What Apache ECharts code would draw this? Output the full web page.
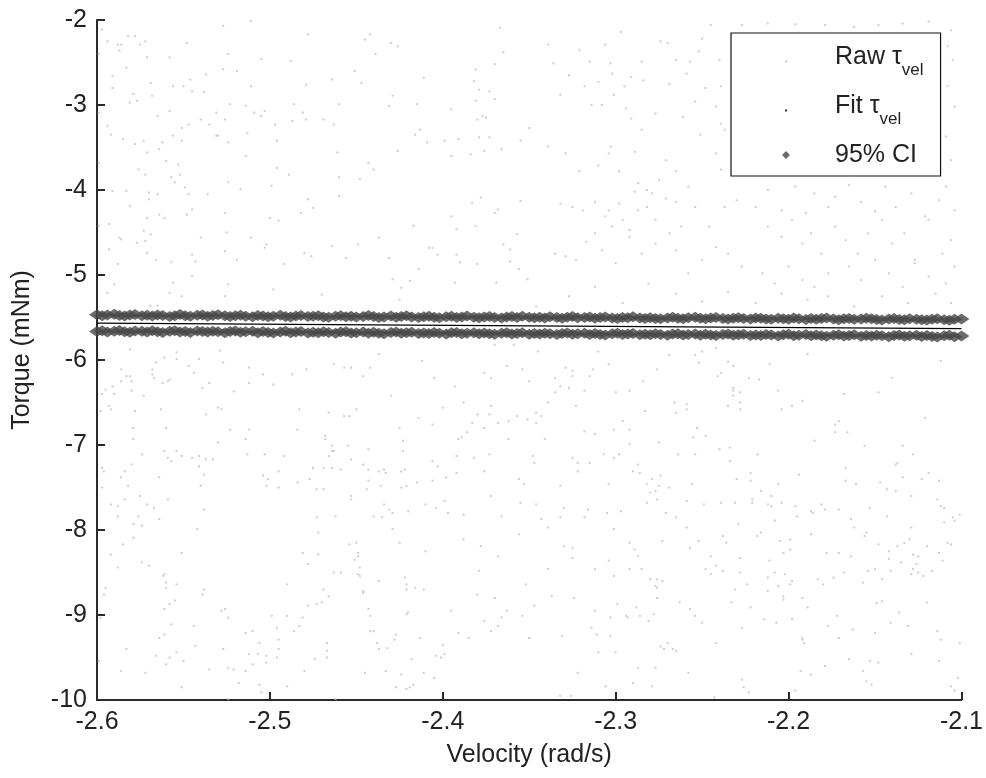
<!DOCTYPE html>
<html>
<head>
<meta charset="utf-8">
<script src="https://cdn.jsdelivr.net/npm/echarts@6/dist/echarts.min.js"></script>
<style>html,body{margin:0;padding:0;background:#fff;}#chart{width:986px;height:778px;}</style>
</head>
<body>
<div id="chart"></div>
<script>
// ---- data ----
const xTicks = [-2.6, -2.5, -2.4, -2.3, -2.2, -2.1];
const yTicks = [-10, -9, -8, -7, -6, -5, -4, -3, -2];

// Raw torque samples [velocity, torque]
const rawPoints = [
[-2.597,-2.11],[-2.527,-2.07],[-2.511,-2.01],[-2.594,-2.25],[-2.588,-2.29],[-2.586,-2.29],[-2.582,-2.19],[-2.578,-2.19],[-2.575,-2.29],[-2.572,-2.25],
[-2.587,-2.36],[-2.599,-2.40],[-2.571,-2.44],[-2.558,-2.44],[-2.548,-2.27],[-2.524,-2.40],[-2.505,-2.46],[-2.488,-2.48],[-2.478,-2.17],[-2.445,-2.23],
[-2.442,-2.17],[-2.439,-2.40],[-2.430,-2.27],[-2.426,-2.31],[-2.367,-2.09],[-2.365,-2.38],[-2.370,-2.52],[-2.381,-2.58],[-2.382,-2.72],[-2.379,-2.82],
[-2.373,-2.84],[-2.370,-2.93],[-2.381,-2.95],[-2.380,-3.17],[-2.377,-3.13],[-2.375,-3.15],[-2.583,-2.56],[-2.591,-2.66],[-2.591,-2.80],[-2.569,-2.74],
[-2.568,-2.89],[-2.579,-2.87],[-2.581,-2.97],[-2.577,-2.95],[-2.556,-2.78],[-2.550,-2.78],[-2.546,-2.70],[-2.545,-2.84],[-2.538,-2.85],[-2.537,-2.64],
[-2.527,-2.58],[-2.519,-2.60],[-2.511,-2.78],[-2.479,-2.76],[-2.464,-2.70],[-2.451,-2.60],[-2.447,-2.74],[-2.429,-2.89],[-2.431,-3.01],[-2.415,-2.99],
[-2.411,-2.68],[-2.395,-3.05],[-2.460,-2.99],[-2.486,-2.99],[-2.523,-2.99],[-2.514,-3.01],[-2.509,-3.09],[-2.503,-3.07],[-2.505,-3.13],[-2.481,-3.09],
[-2.479,-3.17],[-2.487,-3.19],[-2.497,-3.23],[-2.469,-3.17],[-2.463,-3.23],[-2.599,-3.09],[-2.594,-3.25],[-2.592,-3.35],[-2.565,-3.13],[-2.558,-3.07],
[-2.551,-3.27],[-2.547,-3.23],[-2.540,-3.17],[-2.535,-3.23],[-2.531,-3.09],[-2.526,-3.17],[-2.531,-3.36],[-2.530,-3.36],[-2.524,-3.44],[-2.513,-3.33],
[-2.496,-3.42],[-2.585,-3.40],[-2.578,-3.46],[-2.573,-3.42],[-2.571,-3.56],[-2.564,-3.52],[-2.562,-3.44],[-2.556,-3.36],[-2.551,-3.42],[-2.416,-3.35],
[-2.413,-3.29],[-2.409,-3.44],[-2.399,-3.42],[-2.391,-3.40],[-2.395,-3.60],[-2.384,-3.58],[-2.376,-3.54],[-2.366,-3.52],[-2.355,-3.42],[-2.350,-3.27],
[-2.379,-3.38],[-2.373,-3.38],[-2.426,-3.54],[-2.461,-3.56],[-2.514,-3.60],[-2.496,-3.74],[-2.489,-3.82],[-2.499,-3.95],[-2.517,-3.99],[-2.524,-3.91],
[-2.460,-3.85],[-2.460,-4.07],[-2.448,-3.87],[-2.443,-3.68],[-2.440,-3.76],[-2.599,-3.68],[-2.576,-3.76],[-2.572,-3.82],[-2.560,-3.66],[-2.553,-3.70],
[-2.557,-3.85],[-2.555,-3.91],[-2.552,-3.82],[-2.549,-3.97],[-2.547,-4.05],[-2.536,-4.05],[-2.591,-4.01],[-2.583,-4.01],[-2.570,-4.03],[-2.570,-4.11],
[-2.565,-4.05],[-2.581,-4.19],[-2.571,-4.33],[-2.564,-4.29],[-2.561,-4.33],[-2.548,-4.29],[-2.545,-4.23],[-2.526,-4.27],[-2.599,-4.42],[-2.593,-4.40],
[-2.573,-4.48],[-2.569,-4.52],[-2.587,-4.56],[-2.586,-4.58],[-2.577,-4.62],[-2.572,-4.60],[-2.571,-4.74],[-2.566,-4.82],[-2.557,-4.85],[-2.545,-4.76],
[-2.543,-4.84],[-2.540,-4.56],[-2.525,-4.50],[-2.526,-4.72],[-2.519,-4.82],[-2.511,-4.56],[-2.503,-4.68],[-2.502,-4.64],[-2.500,-4.33],[-2.495,-4.36],
[-2.482,-4.27],[-2.478,-4.11],[-2.475,-4.21],[-2.480,-4.74],[-2.476,-4.78],[-2.492,-4.87],[-2.464,-4.66],[-2.456,-4.80],[-2.449,-4.64],[-2.437,-4.56],
[-2.417,-4.42],[-2.395,-4.31],[-2.392,-4.46],[-2.383,-4.15],[-2.378,-4.09],[-2.381,-4.42],[-2.370,-4.27],[-2.368,-4.23],[-2.355,-4.13],[-2.357,-4.52],
[-2.365,-4.64],[-2.361,-4.70],[-2.361,-4.84],[-2.356,-4.93],[-2.351,-5.05],[-2.369,-5.09],[-2.380,-4.87],[-2.390,-4.85],[-2.392,-4.76],[-2.408,-4.68],
[-2.406,-4.68],[-2.403,-4.76],[-2.414,-4.93],[-2.419,-5.07],[-2.429,-5.05],[-2.424,-5.15],[-2.425,-5.29],[-2.431,-4.80],[-2.393,-5.09],[-2.470,-5.23],
[-2.498,-5.17],[-2.524,-5.11],[-2.526,-5.25],[-2.545,-5.01],[-2.551,-5.25],[-2.556,-5.09],[-2.558,-5.21],[-2.594,-5.21],[-2.590,-5.11],[-2.588,-4.87],
[-2.593,-4.70],[-2.569,-5.36],[-2.565,-5.36],
[-2.339,-2.29],[-2.336,-2.51],[-2.327,-2.65],[-2.321,-2.35],[-2.315,-2.49],[-2.310,-2.73],[-2.306,-2.29],[-2.303,-2.51],[-2.302,-2.63],[-2.297,-2.14],
[-2.295,-2.78],[-2.291,-2.67],[-2.285,-2.49],[-2.284,-2.71],[-2.274,-2.25],[-2.270,-2.27],[-2.265,-2.47],[-2.259,-2.63],[-2.257,-2.49],[-2.252,-2.37],
[-2.250,-2.22],[-2.245,-2.06],[-2.248,-2.80],[-2.240,-2.47],[-2.332,-2.88],[-2.318,-2.78],[-2.314,-3.00],[-2.308,-3.00],[-2.301,-2.88],[-2.294,-3.04],
[-2.291,-3.16],[-2.285,-3.29],[-2.277,-3.10],[-2.269,-2.75],[-2.261,-3.14],[-2.254,-2.96],[-2.251,-3.35],[-2.239,-3.22],[-2.339,-3.49],[-2.329,-3.57],
[-2.321,-3.78],[-2.310,-3.71],[-2.304,-3.57],[-2.303,-3.49],[-2.298,-3.78],[-2.289,-3.55],[-2.287,-3.92],[-2.282,-4.00],[-2.279,-4.04],[-2.275,-3.88],
[-2.271,-3.65],[-2.265,-3.78],[-2.258,-3.96],[-2.289,-4.02],[-2.332,-4.16],[-2.325,-4.20],[-2.319,-4.24],[-2.312,-4.14],[-2.306,-4.31],[-2.304,-4.24],
[-2.302,-4.43],[-2.298,-4.16],[-2.296,-4.35],[-2.292,-4.47],[-2.287,-4.24],[-2.282,-4.20],[-2.277,-4.35],[-2.271,-4.10],[-2.265,-4.14],[-2.262,-4.43],
[-2.254,-4.20],[-2.246,-4.43],[-2.237,-4.20],[-2.230,-4.12],[-2.335,-4.75],[-2.329,-4.78],[-2.323,-4.82],[-2.317,-4.61],[-2.312,-4.51],[-2.308,-4.71],
[-2.300,-4.86],[-2.292,-4.55],[-2.285,-4.75],[-2.277,-4.63],[-2.269,-4.51],[-2.265,-4.71],[-2.258,-4.98],[-2.250,-4.82],[-2.242,-4.67],[-2.235,-4.75],
[-2.227,-4.90],[-2.219,-4.20],[-2.212,-4.00],[-2.204,-4.24],[-2.196,-3.96],[-2.190,-4.27],[-2.185,-4.04],[-2.177,-4.20],[-2.173,-4.08],[-2.165,-3.94],
[-2.158,-4.14],[-2.150,-4.25],[-2.144,-3.96],[-2.138,-4.20],[-2.129,-4.04],[-2.121,-4.31],[-2.113,-4.12],[-2.109,-3.96],[-2.104,-4.24],[-2.212,-4.43],
[-2.204,-4.55],[-2.198,-4.35],[-2.192,-4.63],[-2.187,-4.51],[-2.181,-4.75],[-2.173,-4.43],[-2.167,-4.59],[-2.160,-4.75],[-2.154,-4.51],[-2.146,-4.35],
[-2.140,-4.63],[-2.133,-4.51],[-2.127,-4.82],[-2.119,-4.35],[-2.111,-4.75],[-2.106,-4.59],[-2.215,-4.98],[-2.208,-5.10],[-2.200,-4.90],[-2.192,-5.06],
[-2.185,-5.14],[-2.177,-4.98],[-2.165,-4.90],[-2.158,-5.06],[-2.150,-4.82],[-2.142,-4.98],[-2.134,-5.14],[-2.127,-4.86],[-2.119,-5.02],[-2.109,-5.10],
[-2.104,-4.90],[-2.346,-5.37],[-2.327,-5.25],[-2.312,-5.14],[-2.296,-5.33],[-2.281,-5.10],[-2.265,-5.22],[-2.250,-5.31],[-2.235,-5.20],[-2.219,-5.33],
[-2.204,-5.22],[-2.189,-5.29],[-2.177,-5.25],[-2.162,-5.37],[-2.146,-5.25],[-2.131,-5.33],[-2.115,-5.22],[-2.106,-5.33],[-2.227,-2.06],[-2.212,-2.04],
[-2.196,-2.05],[-2.179,-2.06],[-2.162,-2.08],[-2.148,-2.06],[-2.134,-2.04],[-2.119,-2.02],[-2.106,-2.12],[-2.108,-2.31],[-2.105,-2.47],[-2.108,-2.78],
[-2.104,-3.02],[-2.109,-3.37],[-2.106,-3.65],[-2.239,-2.78],[-2.242,-3.02],[-2.237,-3.29],[-2.242,-3.57],[-2.239,-3.76],
[-2.581,-5.875],[-2.566,-6.03],[-2.561,-5.97],[-2.554,-5.91],[-2.554,-5.99],[-2.529,-5.89],[-2.527,-6.03],[-2.541,-5.99],[-2.547,-6.07],[-2.544,-6.15],
[-2.586,-6.11],[-2.583,-6.19],[-2.581,-6.19],[-2.580,-6.25],[-2.586,-6.25],[-2.591,-6.31],[-2.595,-6.35],[-2.597,-6.40],[-2.590,-6.40],[-2.580,-6.36],
[-2.573,-6.42],[-2.568,-6.11],[-2.568,-6.17],[-2.567,-6.21],[-2.562,-6.27],[-2.559,-6.25],[-2.558,-6.23],[-2.535,-6.27],[-2.539,-6.33],[-2.521,-6.37],
[-2.512,-6.09],[-2.512,-6.27],[-2.504,-6.17],[-2.498,-6.29],[-2.487,-6.17],[-2.479,-6.11],[-2.463,-6.05],[-2.457,-6.09],[-2.453,-6.09],[-2.446,-6.19],
[-2.442,-6.09],[-2.437,-5.93],[-2.430,-6.42],[-2.412,-6.01],[-2.405,-6.21],[-2.393,-6.31],[-2.388,-6.50],[-2.376,-6.15],[-2.372,-6.21],[-2.363,-6.07],
[-2.354,-6.11],[-2.359,-5.82],[-2.370,-5.82],[-2.593,-6.54],[-2.592,-6.58],[-2.598,-6.60],[-2.578,-6.60],[-2.563,-6.58],[-2.537,-6.64],[-2.530,-6.56],
[-2.528,-6.58],[-2.579,-6.80],[-2.579,-6.93],[-2.560,-6.80],[-2.574,-7.11],[-2.561,-7.07],[-2.559,-7.15],[-2.557,-7.19],[-2.554,-7.07],[-2.551,-7.13],
[-2.545,-7.15],[-2.541,-7.13],[-2.537,-7.17],[-2.533,-7.17],[-2.541,-7.25],[-2.538,-7.35],[-2.540,-7.48],[-2.538,-7.76],[-2.530,-6.97],[-2.523,-6.82],
[-2.514,-6.93],[-2.512,-6.82],[-2.513,-7.11],[-2.503,-7.11],[-2.504,-7.36],[-2.501,-7.40],[-2.502,-7.48],[-2.495,-7.31],[-2.495,-7.50],[-2.492,-7.13],
[-2.484,-6.82],[-2.483,-6.58],[-2.484,-7.44],[-2.477,-7.40],[-2.475,-7.27],[-2.473,-7.52],[-2.469,-7.52],[-2.469,-7.27],[-2.468,-6.89],[-2.468,-6.93],
[-2.466,-6.62],[-2.466,-7.13],[-2.464,-7.01],[-2.464,-7.07],[-2.463,-7.07],[-2.464,-7.27],[-2.459,-7.29],[-2.457,-6.66],[-2.454,-6.66],[-2.455,-7.01],
[-2.453,-7.17],[-2.450,-6.58],[-2.453,-7.60],[-2.453,-7.64],[-2.446,-7.23],[-2.443,-7.05],[-2.443,-7.29],[-2.443,-7.42],[-2.444,-7.52],[-2.437,-7.31],
[-2.436,-7.48],[-2.434,-7.29],[-2.433,-7.33],[-2.424,-7.31],[-2.422,-7.29],[-2.423,-6.95],[-2.423,-7.07],[-2.425,-6.80],[-2.415,-7.44],[-2.414,-6.68],
[-2.406,-6.76],[-2.406,-7.19],[-2.403,-7.25],[-2.398,-7.38],[-2.406,-7.42],[-2.424,-7.50],[-2.421,-7.48],[-2.400,-6.56],[-2.391,-6.93],[-2.389,-6.91],
[-2.392,-7.13],[-2.392,-7.33],[-2.382,-7.15],[-2.386,-6.85],[-2.383,-6.74],[-2.380,-6.64],[-2.373,-6.64],[-2.376,-6.80],[-2.372,-6.54],[-2.368,-6.74],
[-2.362,-6.72],[-2.357,-6.66],[-2.351,-6.70],[-2.362,-6.93],[-2.373,-7.11],[-2.376,-7.31],[-2.356,-7.40],[-2.353,-7.46],[-2.372,-7.60],[-2.366,-7.84],
[-2.355,-7.68],[-2.356,-8.05],[-2.388,-7.82],[-2.397,-7.80],[-2.399,-7.66],[-2.404,-7.74],[-2.410,-7.70],[-2.420,-7.78],[-2.429,-7.80],[-2.429,-7.99],
[-2.431,-7.76],[-2.435,-7.85],[-2.440,-7.84],[-2.434,-7.70],[-2.425,-8.15],[-2.410,-8.25],[-2.388,-8.11],[-2.378,-8.19],[-2.368,-8.31],[-2.379,-8.48],
[-2.380,-8.76],[-2.370,-8.80],[-2.376,-9.07],[-2.372,-9.19],[-2.368,-9.13],[-2.366,-9.03],[-2.363,-8.95],[-2.354,-9.01],[-2.352,-8.64],[-2.350,-9.27],
[-2.385,-9.27],[-2.391,-9.21],[-2.395,-8.95],[-2.400,-9.35],[-2.399,-9.46],[-2.404,-9.48],[-2.401,-9.50],[-2.405,-9.74],[-2.411,-9.68],[-2.418,-9.52],
[-2.413,-9.27],[-2.420,-8.97],[-2.421,-8.99],[-2.411,-8.70],[-2.416,-8.68],[-2.421,-8.70],[-2.421,-8.64],[-2.422,-8.56],[-2.427,-9.23],[-2.428,-9.29],
[-2.432,-9.39],[-2.437,-9.40],[-2.438,-9.33],[-2.433,-9.66],[-2.424,-9.70],[-2.427,-9.85],[-2.421,-9.87],[-2.419,-9.85],[-2.417,-9.82],[-2.440,-9.19],
[-2.442,-9.19],[-2.442,-9.01],[-2.443,-8.93],[-2.446,-8.74],[-2.446,-8.72],[-2.437,-8.60],[-2.445,-9.68],[-2.448,-8.44],[-2.449,-8.52],[-2.448,-8.54],
[-2.449,-8.27],[-2.449,-8.31],[-2.451,-8.35],[-2.450,-8.15],[-2.454,-8.17],[-2.459,-8.50],[-2.463,-8.50],[-2.466,-8.78],[-2.469,-8.70],[-2.470,-8.85],
[-2.473,-8.87],[-2.478,-8.89],[-2.478,-8.40],[-2.481,-8.27],[-2.472,-8.29],[-2.472,-8.03],[-2.473,-7.85],[-2.462,-7.84],[-2.467,-9.33],[-2.467,-9.42],
[-2.467,-9.50],[-2.474,-9.52],[-2.480,-9.66],[-2.481,-9.03],[-2.483,-9.13],[-2.486,-9.19],[-2.490,-9.01],[-2.490,-8.64],[-2.496,-9.15],[-2.495,-9.29],
[-2.495,-9.40],[-2.496,-9.50],[-2.499,-9.01],[-2.502,-9.56],[-2.502,-9.48],[-2.506,-9.33],[-2.507,-9.46],[-2.510,-9.19],[-2.510,-9.58],[-2.512,-9.46],
[-2.514,-9.21],[-2.514,-9.66],[-2.521,-9.64],[-2.524,-9.62],[-2.527,-9.40],[-2.524,-9.03],[-2.526,-8.93],[-2.528,-8.95],[-2.535,-9.64],[-2.543,-9.36],
[-2.544,-9.13],[-2.539,-8.76],[-2.538,-8.70],[-2.550,-9.54],[-2.554,-9.44],[-2.558,-9.50],[-2.560,-9.58],[-2.566,-9.48],[-2.561,-9.23],[-2.564,-9.27],
[-2.557,-9.11],[-2.561,-8.93],[-2.558,-8.87],[-2.555,-8.83],[-2.554,-8.64],[-2.560,-8.68],[-2.560,-8.62],[-2.562,-8.54],[-2.561,-8.52],[-2.551,-8.27],
[-2.570,-8.42],[-2.574,-8.38],[-2.588,-8.44],[-2.592,-8.29],[-2.585,-8.17],[-2.579,-8.09],[-2.579,-7.93],[-2.574,-7.95],[-2.564,-7.87],[-2.567,-7.74],
[-2.571,-7.70],[-2.576,-7.84],[-2.575,-7.60],[-2.584,-7.64],[-2.588,-7.84],[-2.588,-7.72],[-2.592,-7.70],[-2.597,-7.50],[-2.586,-7.38],[-2.584,-7.31],
[-2.582,-7.48],[-2.580,-7.23],[-2.597,-7.27],[-2.596,-7.31],[-2.559,-7.64],[-2.564,-7.38],[-2.542,-7.99],[-2.595,-8.68],[-2.596,-8.76],[-2.598,-9.03],
[-2.583,-9.40],[-2.586,-9.66],[-2.572,-9.68],[-2.551,-9.85],[-2.518,-9.80],[-2.506,-9.82],[-2.505,-9.91],[-2.490,-9.84],[-2.524,-9.99],[-2.462,-9.99],
[-2.599,-9.54],
[-2.345,-5.90],[-2.310,-5.90],[-2.269,-5.94],[-2.254,-5.94],[-2.250,-5.90],[-2.252,-6.03],[-2.242,-5.86],[-2.235,-6.02],[-2.232,-6.07],[-2.239,-6.15],
[-2.241,-6.19],[-2.223,-6.21],[-2.217,-6.23],[-2.211,-6.05],[-2.189,-5.93],[-2.112,-6.01],[-2.140,-6.21],[-2.304,-6.05],[-2.329,-6.09],[-2.325,-6.13],
[-2.313,-6.11],[-2.315,-6.19],[-2.325,-6.19],[-2.335,-6.21],[-2.332,-6.31],[-2.327,-6.33],[-2.335,-6.38],[-2.350,-6.25],[-2.339,-6.50],[-2.346,-6.62],
[-2.343,-6.66],[-2.346,-6.74],[-2.323,-6.54],[-2.318,-6.36],[-2.300,-6.38],[-2.292,-6.36],[-2.284,-6.25],[-2.276,-6.11],[-2.283,-6.60],[-2.266,-6.50],
[-2.265,-6.62],[-2.259,-6.52],[-2.259,-6.58],[-2.232,-6.33],[-2.232,-6.36],[-2.232,-6.42],[-2.228,-6.38],[-2.228,-6.50],[-2.228,-6.58],[-2.235,-6.54],
[-2.206,-6.36],[-2.204,-6.58],[-2.198,-6.54],[-2.192,-6.48],[-2.168,-6.40],[-2.148,-6.38],[-2.121,-6.68],[-2.173,-6.76],[-2.171,-6.72],[-2.173,-6.85],
[-2.166,-6.85],[-2.185,-6.95],[-2.156,-7.01],[-2.134,-7.01],[-2.128,-7.11],[-2.119,-7.33],[-2.123,-7.40],[-2.138,-7.23],[-2.137,-7.21],[-2.134,-7.38],
[-2.147,-7.44],[-2.143,-7.52],[-2.138,-7.54],[-2.129,-7.60],[-2.161,-7.46],[-2.167,-7.27],[-2.167,-7.42],[-2.113,-7.42],[-2.114,-7.64],[-2.112,-7.72],
[-2.110,-7.74],[-2.110,-7.91],[-2.105,-7.85],[-2.104,-7.89],[-2.101,-7.82],[-2.129,-7.97],[-2.130,-8.11],[-2.133,-8.15],[-2.137,-8.19],[-2.142,-8.25],
[-2.148,-8.17],[-2.155,-8.03],[-2.156,-8.07],[-2.164,-7.87],[-2.162,-7.97],[-2.153,-7.74],[-2.143,-7.84],[-2.120,-8.19],[-2.113,-8.27],[-2.111,-8.36],
[-2.108,-8.15],[-2.106,-8.17],[-2.128,-8.29],[-2.125,-8.31],[-2.126,-8.40],[-2.128,-8.46],[-2.125,-8.50],[-2.122,-8.54],[-2.117,-8.48],[-2.129,-8.52],
[-2.135,-8.38],[-2.141,-8.48],[-2.142,-8.34],[-2.146,-8.58],[-2.150,-8.46],[-2.154,-8.48],[-2.157,-8.62],[-2.164,-8.31],[-2.168,-8.50],[-2.174,-8.56],
[-2.180,-8.64],[-2.183,-8.58],[-2.187,-8.05],[-2.181,-7.70],[-2.179,-7.76],[-2.187,-7.78],[-2.195,-7.84],[-2.196,-7.72],[-2.178,-8.27],[-2.171,-8.27],
[-2.171,-7.76],[-2.146,-8.84],[-2.149,-8.86],[-2.136,-8.97],[-2.141,-9.09],[-2.131,-9.13],[-2.120,-8.85],[-2.114,-9.19],[-2.112,-9.29],[-2.101,-9.33],
[-2.113,-9.54],[-2.129,-9.46],[-2.148,-9.56],[-2.153,-9.54],[-2.157,-9.66],[-2.155,-9.78],[-2.152,-9.82],[-2.165,-9.52],[-2.179,-9.60],[-2.187,-9.70],
[-2.193,-9.66],[-2.191,-9.33],[-2.192,-9.29],[-2.172,-9.01],[-2.171,-9.27],[-2.177,-9.13],[-2.163,-9.17],[-2.150,-9.21],[-2.106,-9.84],[-2.102,-9.74],
[-2.104,-9.89],[-2.196,-9.89],[-2.223,-9.91],[-2.226,-9.85],[-2.227,-9.76],[-2.243,-9.97],[-2.258,-9.68],[-2.279,-9.84],[-2.290,-9.80],[-2.287,-9.62],
[-2.277,-9.62],[-2.306,-9.84],[-2.322,-9.68],[-2.326,-9.95],[-2.332,-9.95],[-2.310,-9.44],[-2.300,-9.44],[-2.311,-9.23],[-2.314,-9.15],[-2.303,-9.25],
[-2.331,-9.25],[-2.350,-9.27],[-2.347,-8.89],[-2.337,-8.78],[-2.324,-8.80],[-2.312,-8.95],[-2.303,-9.03],[-2.299,-8.87],[-2.294,-9.01],[-2.293,-9.03],
[-2.288,-8.91],[-2.286,-9.01],[-2.281,-9.07],[-2.278,-8.99],[-2.276,-8.80],[-2.277,-8.66],[-2.276,-8.68],[-2.273,-8.60],[-2.280,-8.58],[-2.276,-8.58],
[-2.274,-9.37],[-2.272,-9.40],[-2.270,-9.33],[-2.267,-9.40],[-2.265,-9.42],[-2.263,-8.85],[-2.257,-8.93],[-2.254,-9.01],[-2.250,-9.09],[-2.242,-9.33],
[-2.227,-9.15],[-2.233,-8.85],[-2.231,-8.70],[-2.222,-8.91],[-2.214,-9.05],[-2.207,-9.09],[-2.198,-9.05],[-2.189,-8.91],[-2.192,-8.80],[-2.203,-8.78],
[-2.203,-8.82],[-2.206,-8.66],[-2.212,-8.72],[-2.212,-8.56],[-2.208,-8.50],[-2.202,-8.52],[-2.199,-8.64],[-2.198,-8.60],[-2.192,-9.27],[-2.224,-8.64],
[-2.228,-8.50],[-2.228,-8.33],[-2.238,-8.48],[-2.242,-8.42],[-2.245,-8.31],[-2.248,-8.46],[-2.245,-8.52],[-2.238,-8.07],[-2.236,-8.15],[-2.252,-8.13],
[-2.257,-8.21],[-2.259,-7.97],[-2.265,-7.85],[-2.271,-7.80],[-2.273,-8.13],[-2.285,-8.46],[-2.287,-8.31],[-2.289,-8.23],[-2.292,-8.15],[-2.292,-8.46],
[-2.301,-8.54],[-2.304,-8.36],[-2.312,-8.46],[-2.301,-7.99],[-2.305,-7.80],[-2.297,-7.78],[-2.318,-7.85],[-2.316,-7.76],[-2.332,-7.85],[-2.330,-7.74],
[-2.343,-7.87],[-2.339,-7.97],[-2.346,-7.70],[-2.330,-8.19],[-2.325,-8.21],[-2.325,-8.33],[-2.339,-8.46],[-2.282,-7.68],[-2.276,-7.64],[-2.277,-7.54],
[-2.280,-7.56],[-2.282,-7.46],[-2.279,-7.40],[-2.274,-7.36],[-2.275,-7.48],[-2.269,-7.50],[-2.287,-7.23],[-2.286,-7.33],[-2.290,-7.31],[-2.304,-7.46],
[-2.322,-7.21],[-2.322,-7.31],[-2.315,-7.21],[-2.325,-7.15],[-2.332,-7.48],[-2.348,-7.13],[-2.347,-7.21],[-2.341,-6.93],[-2.307,-7.11],[-2.301,-7.15],
[-2.298,-7.11],[-2.292,-6.99],[-2.292,-6.82],[-2.296,-6.72],[-2.301,-6.82],[-2.312,-6.87],[-2.318,-6.84],[-2.275,-6.97],[-2.264,-7.11],[-2.254,-7.11],
[-2.255,-6.91],[-2.253,-6.80],[-2.248,-6.89],[-2.240,-7.05],[-2.234,-7.03],[-2.234,-7.19],[-2.230,-7.40],[-2.222,-7.33],[-2.222,-7.42],[-2.218,-7.11],
[-2.216,-7.54],[-2.221,-7.64],[-2.221,-7.68],[-2.212,-7.70],[-2.210,-7.60],[-2.210,-7.72],[-2.204,-7.68],[-2.206,-7.46],[-2.208,-7.89],[-2.229,-7.93],
[-2.239,-7.68],[-2.249,-7.70],[-2.256,-7.46],[-2.259,-7.66],[-2.231,-7.68],[-2.218,-8.07],[-2.216,-8.03],[-2.205,-8.13],[-2.199,-8.11],[-2.199,-8.23],
[-2.203,-8.27],[-2.211,-8.36],[-2.194,-7.35],[-2.186,-7.80]
];

// Confidence interval, evaluated along velocity
const ciVelocity = [
-2.600,-2.597,-2.594,-2.590,-2.587,-2.584,-2.581,-2.578,-2.574,-2.571,
-2.568,-2.565,-2.562,-2.558,-2.555,-2.552,-2.549,-2.546,-2.542,-2.539,
-2.536,-2.533,-2.530,-2.526,-2.523,-2.520,-2.517,-2.514,-2.510,-2.507,
-2.504,-2.501,-2.498,-2.494,-2.491,-2.488,-2.485,-2.482,-2.478,-2.475,
-2.472,-2.469,-2.466,-2.462,-2.459,-2.456,-2.453,-2.450,-2.446,-2.443,
-2.440,-2.437,-2.434,-2.430,-2.427,-2.424,-2.421,-2.418,-2.414,-2.411,
-2.408,-2.405,-2.402,-2.398,-2.395,-2.392,-2.389,-2.386,-2.382,-2.379,
-2.376,-2.373,-2.370,-2.366,-2.363,-2.360,-2.357,-2.354,-2.350,-2.347,
-2.344,-2.341,-2.338,-2.334,-2.331,-2.328,-2.325,-2.322,-2.318,-2.315,
-2.312,-2.309,-2.306,-2.302,-2.299,-2.296,-2.293,-2.290,-2.286,-2.283,
-2.280,-2.277,-2.274,-2.270,-2.267,-2.264,-2.261,-2.258,-2.254,-2.251,
-2.248,-2.245,-2.242,-2.238,-2.235,-2.232,-2.229,-2.226,-2.222,-2.219,
-2.216,-2.213,-2.210,-2.206,-2.203,-2.200,-2.197,-2.194,-2.190,-2.187,
-2.184,-2.181,-2.178,-2.174,-2.171,-2.168,-2.165,-2.162,-2.158,-2.155,
-2.152,-2.149,-2.146,-2.142,-2.139,-2.136,-2.133,-2.130,-2.126,-2.123,
-2.120,-2.117,-2.114,-2.110,-2.107,-2.104,-2.100
];
const ciUpper = [
-5.468,-5.478,-5.472,-5.462,-5.476,-5.481,-5.470,-5.465,-5.479,-5.474,
-5.483,-5.470,-5.476,-5.487,-5.478,-5.466,-5.480,-5.485,-5.474,-5.471,
-5.486,-5.477,-5.468,-5.480,-5.489,-5.479,-5.473,-5.484,-5.490,-5.476,
-5.481,-5.492,-5.485,-5.474,-5.488,-5.495,-5.482,-5.477,-5.489,-5.484,
-5.480,-5.493,-5.497,-5.486,-5.478,-5.491,-5.484,-5.495,-5.488,-5.476,
-5.487,-5.499,-5.494,-5.483,-5.496,-5.489,-5.480,-5.493,-5.500,-5.491,
-5.484,-5.497,-5.503,-5.490,-5.486,-5.499,-5.494,-5.481,-5.496,-5.502,
-5.493,-5.487,-5.501,-5.506,-5.495,-5.489,-5.500,-5.485,-5.497,-5.504,
-5.498,-5.507,-5.492,-5.501,-5.510,-5.496,-5.489,-5.504,-5.500,-5.493,
-5.509,-5.501,-5.495,-5.507,-5.513,-5.499,-5.504,-5.492,-5.506,-5.511,
-5.502,-5.511,-5.516,-5.505,-5.498,-5.509,-5.514,-5.503,-5.496,-5.510,
-5.515,-5.507,-5.501,-5.513,-5.519,-5.510,-5.504,-5.512,-5.517,-5.506,
-5.510,-5.518,-5.522,-5.508,-5.514,-5.520,-5.505,-5.516,-5.523,-5.512,
-5.521,-5.513,-5.507,-5.519,-5.525,-5.516,-5.511,-5.522,-5.517,-5.509,
-5.516,-5.524,-5.528,-5.519,-5.512,-5.523,-5.527,-5.515,-5.520,-5.526,
-5.529,-5.521,-5.515,-5.526,-5.531,-5.522,-5.518,-5.527,-5.532,-5.520,
-5.523,-5.530,-5.525,-5.519,-5.528,-5.533,-5.524
];
const ciLower = [
-5.665,-5.656,-5.670,-5.661,-5.652,-5.668,-5.674,-5.658,-5.663,-5.671,
-5.657,-5.668,-5.675,-5.662,-5.655,-5.670,-5.664,-5.677,-5.660,-5.666,
-5.672,-5.661,-5.668,-5.680,-5.665,-5.658,-5.673,-5.669,-5.662,-5.678,
-5.666,-5.676,-5.683,-5.670,-5.663,-5.678,-5.672,-5.665,-5.681,-5.674,
-5.680,-5.669,-5.676,-5.686,-5.672,-5.667,-5.683,-5.678,-5.670,-5.685,
-5.673,-5.684,-5.690,-5.677,-5.671,-5.686,-5.680,-5.674,-5.689,-5.682,
-5.688,-5.677,-5.684,-5.694,-5.680,-5.675,-5.691,-5.685,-5.678,-5.692,
-5.681,-5.690,-5.697,-5.684,-5.679,-5.693,-5.687,-5.680,-5.696,-5.689,
-5.695,-5.684,-5.691,-5.700,-5.687,-5.683,-5.698,-5.692,-5.685,-5.701,
-5.689,-5.699,-5.705,-5.692,-5.686,-5.701,-5.695,-5.688,-5.704,-5.697,
-5.703,-5.692,-5.699,-5.709,-5.695,-5.690,-5.706,-5.700,-5.693,-5.708,
-5.697,-5.707,-5.713,-5.700,-5.694,-5.709,-5.703,-5.696,-5.712,-5.705,
-5.711,-5.700,-5.707,-5.717,-5.703,-5.698,-5.714,-5.708,-5.701,-5.716,
-5.705,-5.715,-5.721,-5.708,-5.702,-5.717,-5.711,-5.704,-5.720,-5.713,
-5.719,-5.708,-5.715,-5.725,-5.711,-5.706,-5.722,-5.716,-5.709,-5.724,
-5.713,-5.723,-5.729,-5.716,-5.710,-5.725,-5.719,-5.712,-5.728,-5.721,
-5.727,-5.716,-5.723,-5.732,-5.718,-5.714,-5.730
];

// Fitted torque line
const fitVelocity = [-2.6, -2.1];
const fitTorque = [-5.565, -5.630];

const seriesNames = ['Raw \u03C4vel', 'Fit \u03C4vel', '95% CI'];

// ---- chart ----
const FONT = '"Liberation Sans", Arial, Helvetica, sans-serif';
const AXIS_COLOR = '#2a2a2a';
const chart = echarts.init(document.getElementById('chart'), null, {renderer: 'canvas'});

const ciUpperData = ciVelocity.map((v, i) => [v, ciUpper[i]]);
const ciLowerData = ciVelocity.map((v, i) => [v, ciLower[i]]);
const fitData = fitVelocity.map((v, i) => [v, fitTorque[i]]);

const axisCommon = {
  type: 'value',
  interval: 1,
  axisLine: {show: true, onZero: false, lineStyle: {color: AXIS_COLOR, width: 2}},
  axisTick: {show: true, inside: true, length: 8, lineStyle: {color: AXIS_COLOR, width: 2}},
  axisLabel: {fontFamily: FONT, fontSize: 25, color: '#222'},
  splitLine: {show: false},
  nameTextStyle: {fontFamily: FONT, fontSize: 25, color: '#222'}
};

// legend icons drawn in an 88x8 box (matches itemWidth x itemHeight)
const ICON_RAW = 'path://M0,0M88,8M43.1,3.1h1.8v1.8h-1.8z';
const ICON_FIT = 'path://M0,0M88,8M43,3h2v2h-2z';
const ICON_CI = 'path://M0,0M88,8M44,0L48,4L44,8L40,4Z';

chart.setOption({
  animation: false,
  backgroundColor: '#ffffff',
  grid: {left: 97, right: 24, top: 20, bottom: 78, containLabel: false},
  xAxis: Object.assign({}, axisCommon, {
    min: xTicks[0], max: xTicks[xTicks.length - 1], interval: 0.1,
    name: 'Velocity (rad/s)', nameLocation: 'middle', nameGap: 43,
    axisLabel: Object.assign({}, axisCommon.axisLabel, {margin: 10,
      formatter: v => (Math.round(v * 10) / 10).toFixed(1)})
  }),
  yAxis: Object.assign({}, axisCommon, {
    min: yTicks[0], max: yTicks[yTicks.length - 1], interval: 1,
    name: 'Torque (mNm)', nameLocation: 'middle', nameGap: 62,
    nameTextStyle: Object.assign({}, axisCommon.nameTextStyle, {padding: [0, 0, 0, 20]}),
    axisLabel: Object.assign({}, axisCommon.axisLabel, {margin: 10})
  }),
  legend: {
    orient: 'vertical',
    left: 731, top: 33,
    itemGap: 15,
    itemWidth: 88, itemHeight: 8,
    symbolKeepAspect: false,
    padding: [11.5, 17, 8.5, 11],
    backgroundColor: '#ffffff',
    borderColor: '#111', borderWidth: 1.2,
    selectedMode: false,
    data: [
      {name: seriesNames[0], icon: ICON_RAW, itemStyle: {color: '#b5b5b5'}},
      {name: seriesNames[1], icon: ICON_FIT, itemStyle: {color: '#333'}},
      {name: seriesNames[2], icon: ICON_CI, itemStyle: {color: '#474747'}}
    ],
    formatter: function (name) {
      if (name.endsWith('vel')) return '{n|' + name.slice(0, -3) + '}{s|vel}';
      return '{n|' + name + '}';
    },
    textStyle: {
      fontFamily: FONT, fontSize: 25, color: '#222',
      rich: {
        n: {fontFamily: FONT, fontSize: 25, color: '#222', verticalAlign: 'top'},
        s: {fontFamily: FONT, fontSize: 17, color: '#222', verticalAlign: 'top', padding: [17, 0, 0, 0]}
      }
    }
  },
  series: [
    {
      name: seriesNames[0], type: 'scatter', data: rawPoints,
      symbol: 'rect', symbolSize: 2, itemStyle: {color: '#c2c2c2'},
      large: false, z: 1
    },
    {
      name: seriesNames[1], type: 'line', data: fitData,
      showSymbol: false, lineStyle: {color: '#000', width: 1.3},
      itemStyle: {color: '#000'}, z: 2
    },
    {
      name: seriesNames[2], type: 'scatter', data: ciUpperData,
      symbol: 'diamond', symbolSize: [16, 11], itemStyle: {color: '#474747'}, clip: false, z: 3
    },
    {
      name: seriesNames[2], type: 'scatter', data: ciLowerData,
      symbol: 'diamond', symbolSize: [16, 11], itemStyle: {color: '#474747'}, clip: false, z: 3
    }
  ]
});
</script>
</body>
</html>
